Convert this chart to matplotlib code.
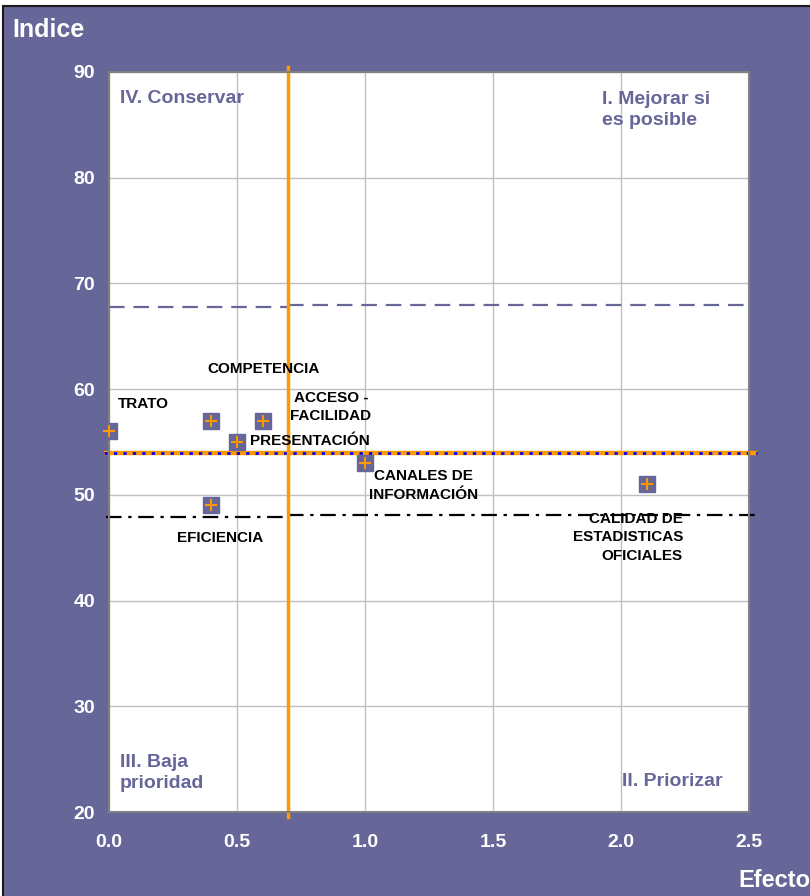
"""
Matriz de prioridades: Indice vs Efecto, con cuadrantes y lineas de referencia.
"""
import matplotlib
matplotlib.use("Agg")
import matplotlib.pyplot as plt
import matplotlib.patches as mpatches

# ---------------------------------------------------------------------------
# Datos
# ---------------------------------------------------------------------------
effect = [0.0, 0.4, 0.6, 0.5, 0.4, 1.0, 2.1]
index = [56, 57, 57, 55, 49, 53, 51]

point_labels = ["TRATO", "COMPETENCIA", "ACCESO -\nFACILIDAD", "PRESENTACIÓN",
                "EFICIENCIA", "CANALES DE\nINFORMACIÓN",
                "CALIDAD DE\nESTADISTICAS\nOFICIALES"]
label_x = [0.035, 0.383, 0.867, 0.551, 0.434, 1.23, 2.242]
label_y = [58.6, 61.9, 58.3, 55.1, 45.9, 50.9, 46.0]
label_ha = ["left", "left", "center", "left", "center", "center", "right"]

quadrant_labels = ["IV. Conservar", "I. Mejorar si\nes posible",
                   "III. Baja\nprioridad", "II. Priorizar"]
quadrant_x = [0.043, 1.926, 0.043, 2.004]
quadrant_y = [87.45, 86.4, 23.7, 22.9]

x_ticks = [0.0, 0.5, 1.0, 1.5, 2.0, 2.5]
y_ticks = [20, 30, 40, 50, 60, 70, 80, 90]

split_x = 0.7          # linea vertical
mean_y = 54            # linea horizontal naranja/azul
upper_y = [67.8, 68.0]  # discontinua, izquierda / derecha
lower_y = [47.9, 48.1]  # punto-raya, izquierda / derecha

PURPLE = "#666699"
ORANGE = "#FF9900"

plt.rcParams["font.family"] = ["Liberation Sans", "DejaVu Sans"]

fig = plt.figure(figsize=(8.1, 8.96), dpi=100, facecolor="white")
fig.patches.append(mpatches.Rectangle(
    (3 / 810, -0.05), 1.1, 1.05 - 6 / 896, transform=fig.transFigure,
    facecolor=PURPLE, edgecolor="#1a1a1a", linewidth=1.5, zorder=-10))

ax = fig.add_axes([109 / 810, 1 - 812 / 896, 640 / 810, 740 / 896])
ax.set_facecolor("white")
ax.set_xlim(0, 2.5)
ax.set_ylim(20, 90)

ax.set_xticks(x_ticks)
ax.set_xticklabels([f"{v:.1f}" for v in x_ticks])
ax.set_yticks(y_ticks)
ax.tick_params(length=0, labelsize=14, labelcolor="white")
ax.tick_params(axis="x", pad=16)
ax.tick_params(axis="y", pad=10)
for t in ax.get_xticklabels() + ax.get_yticklabels():
    t.set_fontweight("bold")
ax.grid(True, color="#c0c0c0", linewidth=1)
ax.set_axisbelow(True)
for s in ax.spines.values():
    s.set_color("#808080")
    s.set_linewidth(1.5)

# Lineas de referencia
ax.plot([0, split_x], [upper_y[0]] * 2, color=PURPLE, lw=1.6, dashes=(7, 4))
ax.plot([split_x, 2.5], [upper_y[1]] * 2, color=PURPLE, lw=1.6, dashes=(7, 4))
ax.plot([-0.01, split_x], [lower_y[0]] * 2, color="black", lw=1.6,
        dashes=(7, 3, 1.5, 3), clip_on=False)
ax.plot([split_x, 2.53], [lower_y[1]] * 2, color="black", lw=1.6,
        dashes=(7, 3, 1.5, 3), clip_on=False)
ax.plot([-0.02, 2.53], [mean_y] * 2, color=ORANGE, lw=3.2, clip_on=False,
        solid_capstyle="butt")
ax.plot([-0.02, 2.53], [mean_y] * 2, color="#0000FF", lw=2, clip_on=False,
        dashes=(1.2, 2.2))
ax.plot([split_x] * 2, [19.5, 90.5], color=ORANGE, lw=2.5, clip_on=False)

# Puntos
ax.plot(effect, index, linestyle="none", marker="s", ms=11.5,
        mfc=PURPLE, mec=PURPLE, clip_on=False, zorder=5)
ax.plot(effect, index, linestyle="none", marker="+", ms=9, mew=1.5,
        color=ORANGE, clip_on=False, zorder=6)

for txt, x, y, ha in zip(point_labels, label_x, label_y, label_ha):
    ax.text(x, y, txt, ha=ha, va="center", fontsize=11, fontweight="bold",
            color="black", linespacing=1.4, zorder=7)

for txt, x, y in zip(quadrant_labels, quadrant_x, quadrant_y):
    ax.text(x, y, txt, ha="left", va="center", fontsize=14, fontweight="bold",
            color=PURPLE, linespacing=1.3, zorder=7)

fig.text(12 / 810, 1 - 30 / 896, "Indice", ha="left", va="center",
         fontsize=18, fontweight="bold", color="white")
fig.text(738 / 810, 1 - 880 / 896, "Efecto", ha="left", va="center",
         fontsize=17, fontweight="bold", color="white")

fig.savefig("out.png", dpi=100, facecolor="white")
